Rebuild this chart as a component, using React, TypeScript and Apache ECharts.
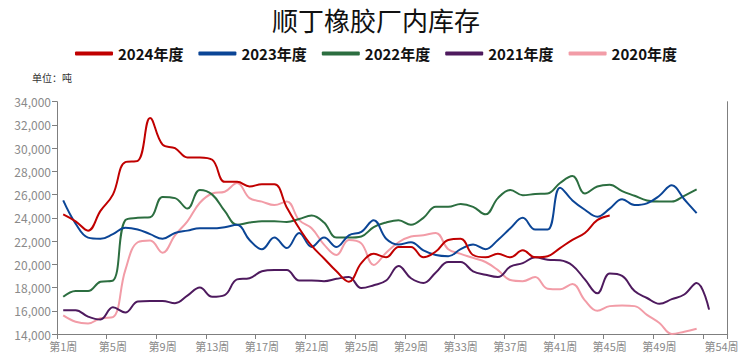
import React, { useEffect, useRef } from "react";
import * as echarts from "echarts";

const weeks: string[] = Array.from({ length: 54 }, (_, i) => `第${i + 1}周`);

const s2024 = [24300, 23700, 22900, 24600, 26000, 28800, 28900, 32600, 30300, 30000, 29200, 29200, 29000, 27100, 27100, 26700, 26900, 26900, 24900, 23100, 21600, 20500, 19400, 18500, 20100, 20900, 20600, 21500, 21500, 20600, 21100, 22100, 22200, 20800, 20600, 20900, 20600, 21200, 20600, 20700, 21400, 22100, 22700, 23800, 24200];
const s2023 = [25500, 23500, 22300, 22200, 22600, 23150, 23000, 22600, 22200, 22700, 22900, 23100, 23100, 23200, 23400, 22100, 21300, 22300, 21400, 22700, 21500, 22300, 21500, 22500, 22800, 23800, 22200, 21700, 21900, 21200, 20800, 20700, 21300, 21700, 21300, 22100, 23100, 24000, 23000, 23000, 26600, 25500, 24700, 24100, 24800, 25600, 25100, 25250, 25900, 26800, 25600, 24400];
const s2022 = [17200, 17700, 17700, 18500, 18600, 23800, 24000, 24050, 25800, 25700, 24800, 26400, 26000, 24600, 23400, 23600, 23700, 23700, 23650, 23900, 24200, 23600, 22300, 22300, 22400, 23200, 23600, 23800, 23400, 24000, 24950, 24950, 25200, 24950, 24300, 25700, 26400, 25950, 26050, 26100, 27000, 27600, 26100, 26700, 26850, 26300, 25900, 25500, 25400, 25400, 25900, 26450];
const s2021 = [16050, 16050, 15500, 15250, 16300, 15850, 16800, 16850, 16850, 16650, 17300, 18000, 17200, 17350, 18700, 18800, 19400, 19500, 19500, 18600, 18600, 18550, 18750, 18900, 17950, 18200, 18600, 19850, 18800, 18400, 19300, 20200, 20200, 19400, 19100, 18900, 19800, 20100, 20600, 20400, 20350, 19900, 18700, 17500, 19200, 19000, 17700, 17100, 16600, 17000, 17400, 18400, 16100];
const s2020 = [15600, 15050, 14900, 15350, 15450, 19500, 21900, 22050, 21000, 22500, 23700, 25300, 26100, 26250, 27000, 25700, 25400, 25100, 25400, 23800, 23100, 21700, 20800, 22100, 21800, 19950, 21000, 21900, 22400, 22500, 22700, 21300, 20900, 20550, 20200, 19500, 18650, 18550, 18900, 17900, 17850, 18300, 16900, 16000, 16400, 16450, 16400, 15650, 14950, 14000, 14200, 14450];

const seriesNames = ["2024年度", "2023年度", "2022年度", "2021年度", "2020年度"];
const seriesData = [s2024, s2023, s2022, s2021, s2020];
const colors = ["#C00000", "#0B4596", "#2C6E40", "#4E1A5E", "#F29CA7"];

const yMin = 14000;
const yMax = 34000;
const yStep = 2000;

const cjk = "'Noto Sans CJK SC', 'Microsoft YaHei', sans-serif";

export default function App() {
  const ref = useRef<HTMLDivElement>(null);
  useEffect(() => {
    if (!ref.current) return;
    const chart = echarts.init(ref.current, undefined, { renderer: "svg" });
    chart.setOption({
      animation: false,
      backgroundColor: "#ffffff",
      title: {
        text: "顺丁橡胶厂内库存",
        left: "center",
        top: 1,
        textStyle: { fontFamily: cjk, fontSize: 26, fontWeight: "normal", color: "#111" },
      },
      legend: {
        top: 41,
        left: "center",
        itemWidth: 38,
        itemHeight: 4,
        itemGap: 15,
        icon: "roundRect",
        data: seriesNames,
        textStyle: { fontFamily: "'Liberation Sans Narrow', 'Arial Narrow', " + cjk, fontSize: 15, fontWeight: "bold", color: "#111" },
      },
      graphic: [
        {
          type: "text",
          left: 32,
          top: 72,
          style: { text: "单位：吨", fontFamily: cjk, fontSize: 10, fill: "#333" },
        },
      ],
      grid: { left: 57, right: 24.3, top: 101.7, bottom: 30, containLabel: false },
      xAxis: {
        type: "category",
        data: weeks,
        boundaryGap: true,
        axisLine: { show: true, lineStyle: { color: "#7f7f7f", width: 1 } },
        axisTick: { show: true, interval: 3, length: 5, lineStyle: { color: "#7f7f7f" } },
        axisLabel: {
          interval: (idx: number) => (idx % 4 === 0 && idx < 52) || idx === 53,
          color: "#8a8a8a",
          fontSize: 11,
          fontFamily: cjk,
          margin: 6,
        },
        splitLine: { show: false },
      },
      yAxis: [
        {
          type: "value",
          min: yMin,
          max: yMax,
          interval: yStep,
          axisLine: { show: true, lineStyle: { color: "#7f7f7f", width: 1 } },
          axisTick: { show: true, length: 5, lineStyle: { color: "#7f7f7f" } },
          axisLabel: {
            color: "#8a8a8a",
            fontSize: 12,
            fontFamily: cjk,
            margin: 6,
            formatter: (v: number) => v.toLocaleString("en-US"),
          },
          splitLine: { show: false },
        },
        {
          type: "value",
          position: "right",
          min: yMin,
          max: yMax,
          interval: yStep,
          axisLine: { show: true, lineStyle: { color: "#7f7f7f", width: 1 } },
          axisTick: { show: false },
          axisLabel: { show: false },
          splitLine: { show: false },
        },
      ],
      series: seriesNames.map((name, i) => ({
        name,
        type: "line",
        data: seriesData[i],
        yAxisIndex: 0,
        smooth: 0.4,
        showSymbol: false,
        symbol: "none",
        z: 10 - i,
        lineStyle: { color: colors[i], width: 2 },
        itemStyle: { color: colors[i] },
      })),
    });
    return () => chart.dispose();
  }, []);
  return (
    <div
      ref={ref}
      style={{ position: "absolute", left: 0, top: 0, width: 752, height: 364 }}
    />
  );
}
